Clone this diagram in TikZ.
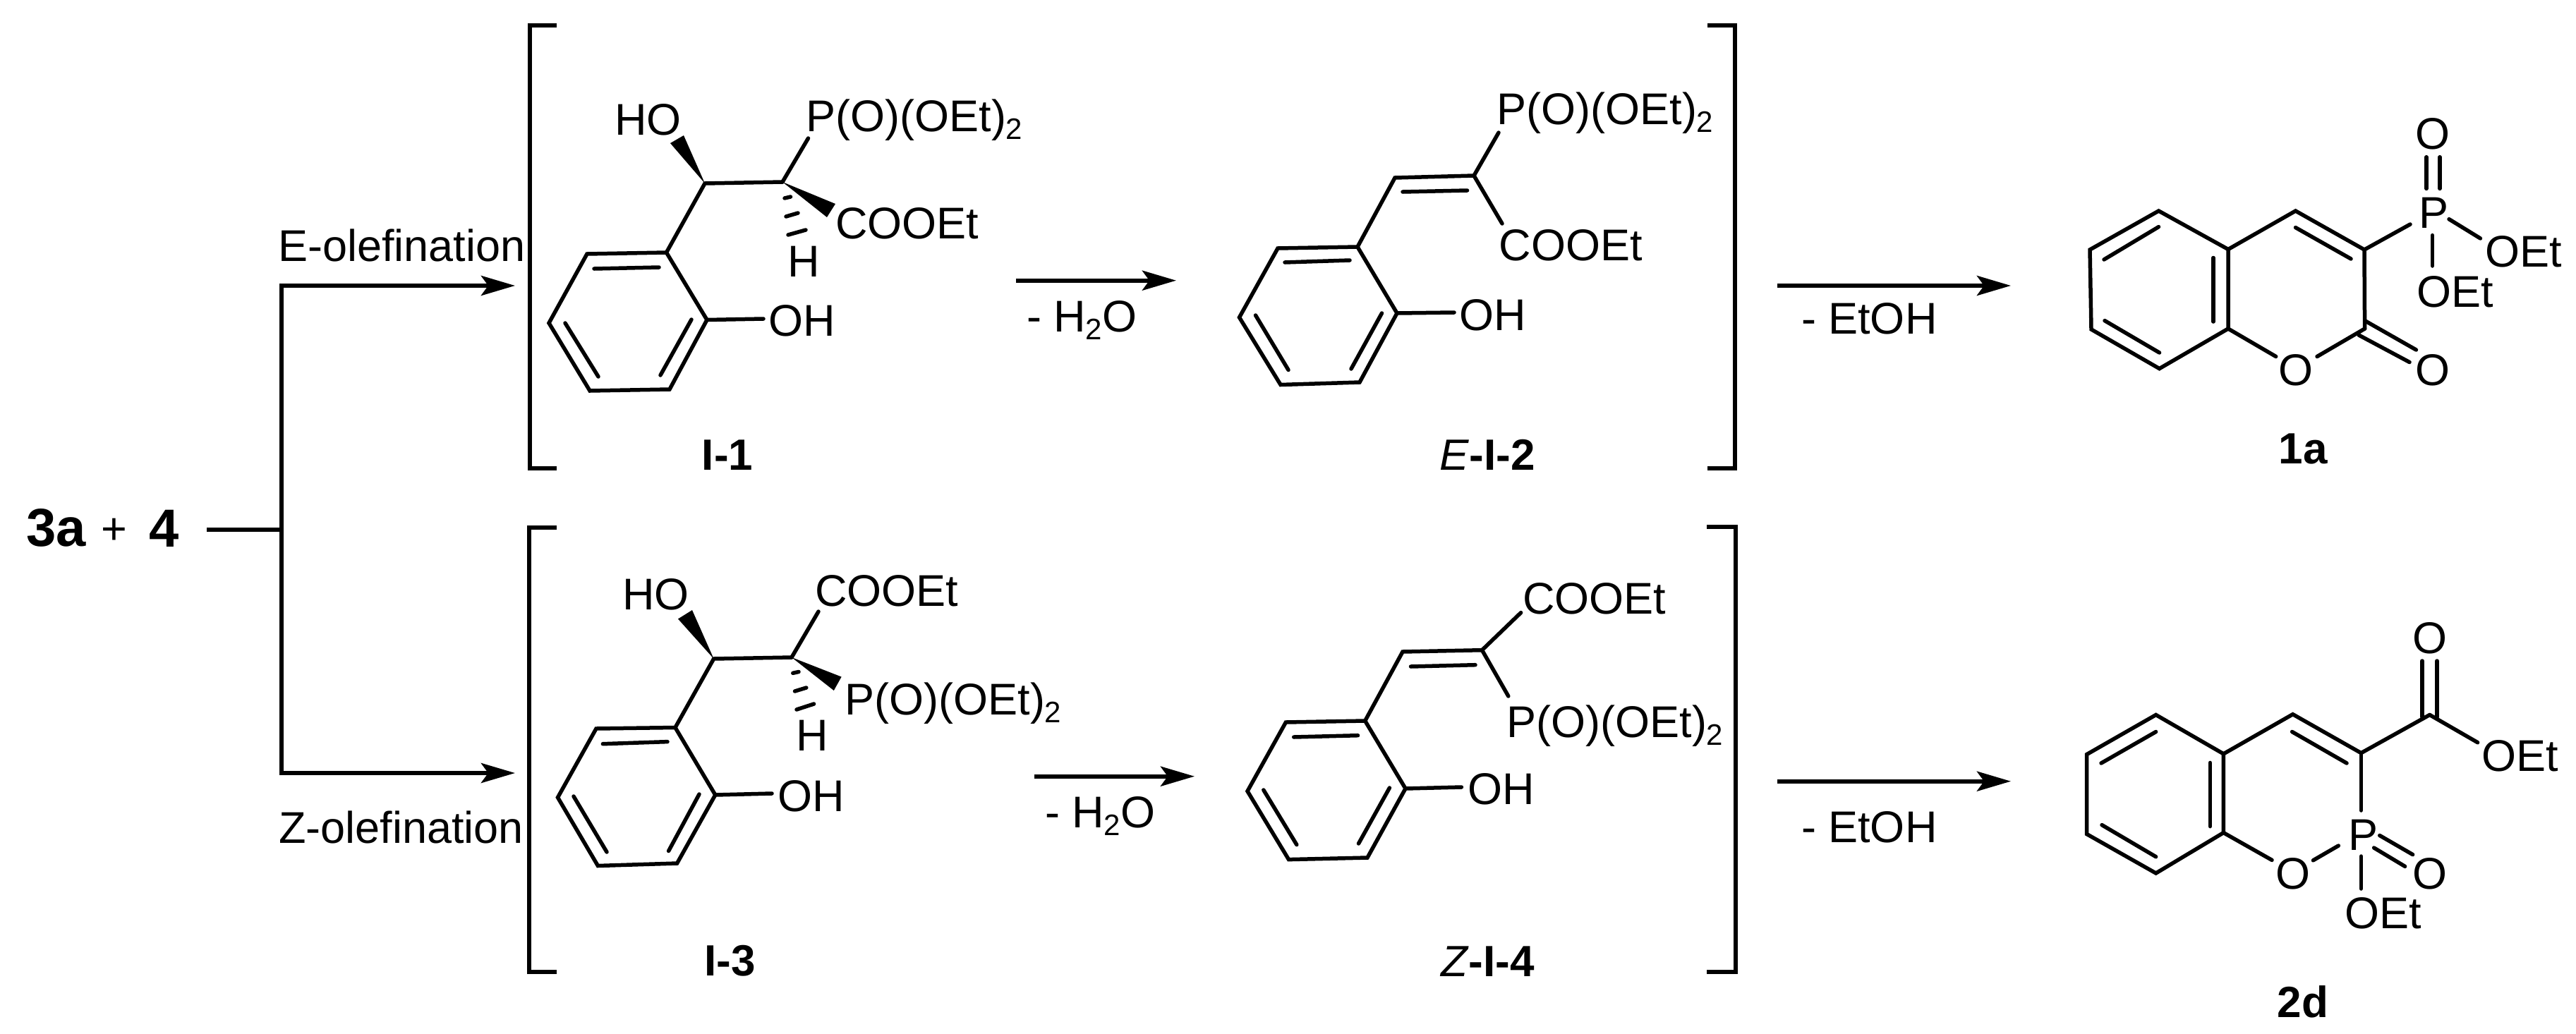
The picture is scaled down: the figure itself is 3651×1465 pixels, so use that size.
\documentclass[tikz,border=0pt]{standalone}
\usepackage{fontspec}
\setmainfont{Liberation Sans}
\usetikzlibrary{arrows.meta}
\newcommand{\subtwo}{\raisebox{-11pt}{\fontsize{42}{42}\selectfont 2}}
\tikzset{
  x=1pt,y=-1pt,
  bond/.style={draw=black,line width=5.5pt,line cap=round,line join=miter},
  brk/.style={draw=black,line width=6pt,line cap=butt,line join=miter},
  flow/.style={draw=black,line width=6pt,line cap=butt,line join=miter,-{Stealth[length=48pt,width=28pt,inset=10pt]}},
  link/.style={draw=black,line width=6pt,line cap=butt,line join=miter},
  wedge/.style={fill=black,draw=none},
  txt/.style={inner sep=0pt,outer sep=0pt,anchor=base west,text=black,yshift=-1.5pt,font=\fontsize{63}{70}\selectfont},
  mol/.style={inner sep=0pt,outer sep=0pt,anchor=base,text=black,yshift=-1.5pt,font=\fontsize{62}{70}\selectfont\bfseries},
  big/.style={inner sep=0pt,outer sep=0pt,anchor=base,text=black,font=\fontsize{76}{80}\selectfont\bfseries},
}
\begin{document}
\begin{tikzpicture}
\useasboundingbox (0,0) rectangle (3651,1465);
\fill[white] (0,0) rectangle (3651,1465);

% ---------- left part
\node[big] (r3a) at (80,774) {3a};
\node[txt] (rplus) at (143,770) {+};
\node[big] (r4) at (233,775) {4};
\coordinate (sS) at (293,750.5);
\coordinate (sM) at (399,750.5);
\coordinate (sT) at (399,405);
\coordinate (sB) at (399,1096);
\coordinate (sTe) at (730,405);
\coordinate (sBe) at (730,1096);
\draw[link] (sS) -- (sM);
\draw[flow] (sM) -- (sT) -- (sTe);
\draw[flow] (sM) -- (sB) -- (sBe);
\node[txt] (lE) at (394,369) {E-olefination};
\node[txt] (lZ) at (395,1194) {Z-olefination};

% ---------- brackets
\coordinate (b1a) at (789,36); \coordinate (b1b) at (751,36); \coordinate (b1c) at (751,664); \coordinate (b1d) at (789,664);
\draw[brk] (b1a) -- (b1b) -- (b1c) -- (b1d);
\coordinate (b2a) at (2420,36); \coordinate (b2b) at (2459,36); \coordinate (b2c) at (2459,664); \coordinate (b2d) at (2420,664);
\draw[brk] (b2a) -- (b2b) -- (b2c) -- (b2d);
\coordinate (b3a) at (789,748); \coordinate (b3b) at (750,748); \coordinate (b3c) at (750,1377.5); \coordinate (b3d) at (789,1377.5);
\draw[brk] (b3a) -- (b3b) -- (b3c) -- (b3d);
\coordinate (b4a) at (2419,747); \coordinate (b4b) at (2460,747); \coordinate (b4c) at (2460,1377.5); \coordinate (b4d) at (2419,1377.5);
\draw[brk] (b4a) -- (b4b) -- (b4c) -- (b4d);

% ---------- I-1
\coordinate (aCA) at (999,260); \coordinate (aCB) at (1109,258);
\coordinate (a1) at (944.5,358); \coordinate (a2) at (832,360); \coordinate (a3) at (778,458);
\coordinate (a4) at (836,554); \coordinate (a5) at (949,552); \coordinate (a6) at (1002,453.5);
\draw[bond] (a1) -- (a2) -- (a3) -- (a4) -- (a5) -- (a6) -- cycle;
\coordinate (ai1) at (842,381); \coordinate (ai2) at (934,379);
\coordinate (ai3) at (801,458); \coordinate (ai4) at (848,534);
\coordinate (ai5) at (936,532); \coordinate (ai6) at (980,453);
\draw[bond] (ai1) -- (ai2); \draw[bond] (ai3) -- (ai4); \draw[bond] (ai5) -- (ai6);
\draw[bond] (a1) -- (aCA) -- (aCB);
\coordinate (aOHb) at (1082,452); \draw[bond] (a6) -- (aOHb);
\coordinate (aPb) at (1145.5,196); \draw[bond] (aCB) -- (aPb);
\coordinate (aw1) at (950,203); \coordinate (aw2) at (969,192);
\fill[wedge] (aCA) -- (aw1) -- (aw2) -- cycle;
\coordinate (aw3) at (1184,289); \coordinate (aw4) at (1172,308);
\fill[wedge] (aCB) -- (aw3) -- (aw4) -- cycle;
\coordinate (ah1) at (1112,281); \coordinate (ah2) at (1120.5,279);
\coordinate (ah3) at (1114,307); \coordinate (ah4) at (1131,302);
\coordinate (ah5) at (1117,333); \coordinate (ah6) at (1142,326);
\draw[bond] (ah1) -- (ah2); \draw[bond] (ah3) -- (ah4); \draw[bond] (ah5) -- (ah6);
\node[txt] (aHO) at (871,190) {HO};
\node[txt] (aP) at (1142.5,185) {P(O)(OEt)\subtwo};
\node[txt] (aCO) at (1184,337) {COOEt};
\node[txt] (aH) at (1116.5,391) {H};
\node[txt] (aOH) at (1089,475) {OH};
\node[mol] (aL) at (1031,665) {I-1};

% ---------- E-I-2
\coordinate (eC1) at (1977,252); \coordinate (eC2) at (2089,249);
\coordinate (e1) at (1924,350); \coordinate (e2) at (1811,352); \coordinate (e3) at (1756.5,450);
\coordinate (e4) at (1815,545.5); \coordinate (e5) at (1927,542); \coordinate (e6) at (1980,444);
\draw[bond] (e1) -- (e2) -- (e3) -- (e4) -- (e5) -- (e6) -- cycle;
\coordinate (ei1) at (1821,372); \coordinate (ei2) at (1913,369);
\coordinate (ei3) at (1779.5,447); \coordinate (ei4) at (1826,524.5);
\coordinate (ei5) at (1915,523); \coordinate (ei6) at (1958.5,444);
\coordinate (ei7) at (1988,272); \coordinate (ei8) at (2079.5,270);
\draw[bond] (ei1) -- (ei2); \draw[bond] (ei3) -- (ei4); \draw[bond] (ei5) -- (ei6); \draw[bond] (ei7) -- (ei8);
\draw[bond] (e1) -- (eC1) -- (eC2);
\coordinate (ePb) at (2124,188); \coordinate (eCb) at (2129,317); \coordinate (eOHb) at (2061,443);
\draw[bond] (eC2) -- (ePb); \draw[bond] (eC2) -- (eCb); \draw[bond] (e6) -- (eOHb);
\node[txt] (eP) at (2121.5,175) {P(O)(OEt)\subtwo};
\node[txt] (eCO) at (2124.5,368) {COOEt};
\node[txt] (eOH) at (2068,466.5) {OH};
\node[mol] (eL) at (2108,665) {\textmd{\itshape E}-I-2};

% ---------- 1a
\coordinate (c1) at (3059.5,299); \coordinate (c2) at (2962,354); \coordinate (c3) at (2964,467);
\coordinate (c4) at (3060.5,522.6); \coordinate (c5) at (3158,466); \coordinate (c6) at (3158,353.5);
\draw[bond] (c1) -- (c2) -- (c3) -- (c4) -- (c5) -- (c6) -- cycle;
\coordinate (cC4) at (3253.5,299); \coordinate (cC3) at (3351,354); \coordinate (cC2) at (3351.6,466);
\draw[bond] (c6) -- (cC4) -- (cC3) -- (cC2);
\coordinate (ci1) at (2982,368); \coordinate (ci2) at (3059.5,321.6);
\coordinate (ci3) at (2983,454.6); \coordinate (ci4) at (3060.5,500);
\coordinate (ci5) at (3137,365.5); \coordinate (ci6) at (3137,456);
\coordinate (ci7) at (3253.5,322.6); \coordinate (ci8) at (3332,367);
\draw[bond] (ci1) -- (ci2); \draw[bond] (ci3) -- (ci4); \draw[bond] (ci5) -- (ci6); \draw[bond] (ci7) -- (ci8);
\coordinate (cOa) at (3225.7,505.5); \coordinate (cOb) at (3284,505.5);
\draw[bond] (c5) -- (cOa); \draw[bond] (cOb) -- (cC2);
\coordinate (cd1) at (3351.6,454.6); \coordinate (cd2) at (3424.4,496);
\coordinate (cd3) at (3343,475); \coordinate (cd4) at (3415,513.5);
\draw[bond] (cd1) -- (cd2); \draw[bond] (cd3) -- (cd4);
\coordinate (cPb) at (3416,318); \draw[bond] (cC3) -- (cPb);
\coordinate (cp1) at (3439,222.7); \coordinate (cp2) at (3439,267.4);
\coordinate (cp3) at (3458,222.7); \coordinate (cp4) at (3458,267.4);
\draw[bond] (cp1) -- (cp2); \draw[bond] (cp3) -- (cp4);
\coordinate (cq1) at (3471,310.7); \coordinate (cq2) at (3515.4,338);
\coordinate (cq3) at (3447.4,333.6); \coordinate (cq4) at (3447.4,377);
\draw[bond] (cq1) -- (cq2); \draw[bond] (cq3) -- (cq4);
\node[txt,anchor=base] (cOt) at (3448,210) {O};
\node[txt] (cPt) at (3428.5,321.6) {P};
\node[txt] (cE1) at (3522,377) {OEt};
\node[txt] (cE2) at (3425,433.5) {OEt};
\node[txt,anchor=base] (cOr) at (3253.5,545) {O};
\node[txt,anchor=base] (cOc) at (3448,545) {O};
\node[mol] (cL) at (3264,656) {1a};

% ---------- I-3
\coordinate (gCA) at (1011.6,934); \coordinate (gCB) at (1122,932);
\coordinate (g1) at (957,1031.5); \coordinate (g2) at (845,1033); \coordinate (g3) at (790.5,1130.6);
\coordinate (g4) at (847.4,1227.5); \coordinate (g5) at (959.6,1224); \coordinate (g6) at (1013.8,1127);
\draw[bond] (g1) -- (g2) -- (g3) -- (g4) -- (g5) -- (g6) -- cycle;
\coordinate (gi1) at (854.4,1054.7); \coordinate (gi2) at (946,1051.6);
\coordinate (gi3) at (813,1129); \coordinate (gi4) at (860,1208);
\coordinate (gi5) at (947.6,1206.5); \coordinate (gi6) at (991,1126);
\draw[bond] (gi1) -- (gi2); \draw[bond] (gi3) -- (gi4); \draw[bond] (gi5) -- (gi6);
\draw[bond] (g1) -- (gCA) -- (gCB);
\coordinate (gOHb) at (1094,1125); \draw[bond] (g6) -- (gOHb);
\coordinate (gCb) at (1160,867); \draw[bond] (gCB) -- (gCb);
\coordinate (gw1) at (961,877.5); \coordinate (gw2) at (981,865);
\fill[wedge] (gCA) -- (gw1) -- (gw2) -- cycle;
\coordinate (gw3) at (1192.6,959.6); \coordinate (gw4) at (1181.8,979);
\fill[wedge] (gCB) -- (gw3) -- (gw4) -- cycle;
\coordinate (gh1) at (1123.8,954.3); \coordinate (gh2) at (1132,952.5);
\coordinate (gh3) at (1126.5,980); \coordinate (gh4) at (1142.8,975);
\coordinate (gh5) at (1129,1006); \coordinate (gh6) at (1153.6,998);
\draw[bond] (gh1) -- (gh2); \draw[bond] (gh3) -- (gh4); \draw[bond] (gh5) -- (gh6);
\node[txt] (gHO) at (882,863) {HO};
\node[txt] (gCO) at (1155,858) {COOEt};
\node[txt] (gP) at (1197.5,1012) {P(O)(OEt)\subtwo};
\node[txt] (gH) at (1128.5,1063) {H};
\node[txt] (gOH) at (1102,1148.5) {OH};
\node[mol] (gL) at (1034.5,1382) {I-3};

% ---------- Z-I-4
\coordinate (zC1) at (1988,924); \coordinate (zC2) at (2100.5,921.7);
\coordinate (z1) at (1934.7,1022); \coordinate (z2) at (1822.4,1024); \coordinate (z3) at (1768,1121.7);
\coordinate (z4) at (1826.5,1218.6); \coordinate (z5) at (1938,1216); \coordinate (z6) at (1992,1118);
\draw[bond] (z1) -- (z2) -- (z3) -- (z4) -- (z5) -- (z6) -- cycle;
\coordinate (zi1) at (1833.7,1045); \coordinate (zi2) at (1924.5,1042.7);
\coordinate (zi3) at (1790.8,1120); \coordinate (zi4) at (1837.8,1197.6);
\coordinate (zi5) at (1925.5,1196); \coordinate (zi6) at (1969.4,1117);
\coordinate (zi7) at (1999.5,945); \coordinate (zi8) at (2091,942.7);
\draw[bond] (zi1) -- (zi2); \draw[bond] (zi3) -- (zi4); \draw[bond] (zi5) -- (zi6); \draw[bond] (zi7) -- (zi8);
\draw[bond] (z1) -- (zC1) -- (zC2);
\coordinate (zCb) at (2155.6,868.6); \coordinate (zPb) at (2137.8,987); \coordinate (zOHb) at (2071.4,1116);
\draw[bond] (zC2) -- (zCb); \draw[bond] (zC2) -- (zPb); \draw[bond] (z6) -- (zOHb);
\node[txt] (zCO) at (2158,868.6) {COOEt};
\node[txt] (zP) at (2135.5,1043.6) {P(O)(OEt)\subtwo};
\node[txt] (zOH) at (2080.7,1138.7) {OH};
\node[mol] (zL) at (2108.5,1383) {\textmd{\itshape Z}-I-4};

% ---------- 2d
\coordinate (d1) at (3055.6,1013.5); \coordinate (d2) at (2957.5,1069.6); \coordinate (d3) at (2957.5,1182.5);
\coordinate (d4) at (3055.6,1238); \coordinate (d5) at (3151.4,1180.6); \coordinate (d6) at (3151.4,1068.8);
\draw[bond] (d1) -- (d2) -- (d3) -- (d4) -- (d5) -- (d6) -- cycle;
\coordinate (dC4) at (3249.6,1012.7); \coordinate (dC3) at (3346.4,1067.6); \coordinate (dCo) at (3443.6,1013.5);
\draw[bond] (d6) -- (dC4) -- (dC3) -- (dCo);
\coordinate (di1) at (2978,1082); \coordinate (di2) at (3055.6,1037.5);
\coordinate (di3) at (2979,1169.6); \coordinate (di4) at (3055.6,1214.7);
\coordinate (di5) at (3132.3,1081.4); \coordinate (di6) at (3132.3,1171.6);
\coordinate (di7) at (3248.6,1037.5); \coordinate (di8) at (3326,1082);
\draw[bond] (di1) -- (di2); \draw[bond] (di3) -- (di4); \draw[bond] (di5) -- (di6); \draw[bond] (di7) -- (di8);
\coordinate (dPb) at (3346.4,1149); \draw[bond] (dC3) -- (dPb);
\coordinate (dOa) at (3220,1219.4); \draw[bond] (d5) -- (dOa);
\coordinate (dOb) at (3278.4,1219.8); \coordinate (dOc) at (3314.3,1199); \draw[bond] (dOb) -- (dOc);
\coordinate (dp1) at (3372.7,1184.5); \coordinate (dp2) at (3419.6,1211.6);
\coordinate (dp3) at (3364.6,1202); \coordinate (dp4) at (3408.6,1228.4);
\draw[bond] (dp1) -- (dp2); \draw[bond] (dp3) -- (dp4);
\coordinate (dq1) at (3346.4,1214); \coordinate (dq2) at (3346.4,1260); \draw[bond] (dq1) -- (dq2);
\coordinate (dEb) at (3511.6,1052.7); \draw[bond] (dCo) -- (dEb);
\coordinate (dr1) at (3433,937); \coordinate (dr2) at (3433,1016.7);
\coordinate (dr3) at (3454,937); \coordinate (dr4) at (3454,1016.7);
\draw[bond] (dr1) -- (dr2); \draw[bond] (dr3) -- (dr4);
\node[txt,anchor=base] (dOt) at (3443.6,925) {O};
\node[txt] (dE1) at (3517,1092) {OEt};
\node[txt] (dPt) at (3328,1204) {P};
\node[txt,anchor=base] (dOr) at (3249.6,1259) {O};
\node[txt,anchor=base] (dOd) at (3443.6,1259) {O};
\node[txt] (dE2) at (3323,1314.7) {OEt};
\node[mol] (dL) at (3264,1441) {2d};

% ---------- reaction arrows
\coordinate (m1s) at (1440,397.7); \coordinate (m1e) at (1667,397.7);
\draw[flow] (m1s) -- (m1e);
\node[txt] (m1t) at (1455,469) {- H\subtwo O};
\coordinate (m2s) at (2519,405); \coordinate (m2e) at (2850,405);
\draw[flow] (m2s) -- (m2e);
\node[txt] (m2t) at (2553,472) {- EtOH};
\coordinate (m3s) at (1466,1100.7); \coordinate (m3e) at (1693,1100.7);
\draw[flow] (m3s) -- (m3e);
\node[txt] (m3t) at (1481,1171.7) {- H\subtwo O};
\coordinate (m4s) at (2519,1107.7); \coordinate (m4e) at (2850,1107.7);
\draw[flow] (m4s) -- (m4e);
\node[txt] (m4t) at (2553,1193) {- EtOH};
\end{tikzpicture}
\end{document}
